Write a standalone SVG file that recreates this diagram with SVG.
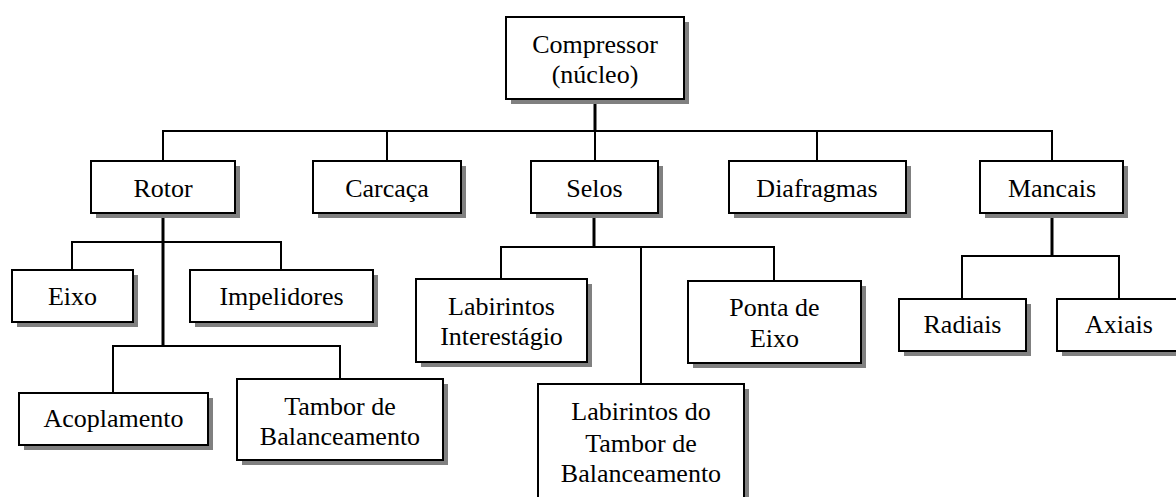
<svg xmlns="http://www.w3.org/2000/svg" width="1176" height="497" viewBox="0 0 1176 497">
<style>
.sh{fill:#808080;stroke:none}
.bx{fill:#fff;stroke:#000;stroke-width:2}
.t{font-family:"Liberation Serif","Times New Roman",serif;font-size:26px;fill:#000;text-anchor:middle}
.ln{stroke:#000;stroke-width:2;fill:none}
.tk{stroke:#000;stroke-width:3;fill:none}
</style>
<rect width="1176" height="497" fill="#fff"/>
<g id="connectors">
<path class="tk" d="M595 99V131"/>
<path class="ln" d="M163 161V131H1052V161M387 131V161M595 131V161M817 131V161"/>
<path class="tk" d="M163 213V346"/>
<path class="ln" d="M72 270V242H281V270"/>
<path class="ln" d="M113 393V346H340V379"/>
<path class="tk" d="M594 213V247"/>
<path class="ln" d="M501 279V247H774V281M641 247V384"/>
<path class="tk" d="M1052 213V256"/>
<path class="ln" d="M962 299V256H1119V299"/>
</g>
<g id="compressor"><rect class="sh" x="511" y="22" width="178" height="82"/><rect class="bx" x="506" y="17" width="178" height="82"/><text class="t" x="595" y="53">Compressor</text><text class="t" x="595" y="83">(núcleo)</text></g>
<g id="rotor"><rect class="sh" x="96" y="166" width="144" height="52"/><rect class="bx" x="91" y="161" width="144" height="52"/><text class="t" x="163" y="197">Rotor</text></g>
<g id="carcaca"><rect class="sh" x="318" y="166" width="148" height="52"/><rect class="bx" x="313" y="161" width="148" height="52"/><text class="t" x="387" y="197">Carcaça</text></g>
<g id="selos"><rect class="sh" x="536" y="166" width="127" height="52"/><rect class="bx" x="531" y="161" width="127" height="52"/><text class="t" x="594.5" y="197">Selos</text></g>
<g id="diafragmas"><rect class="sh" x="734" y="166" width="177" height="52"/><rect class="bx" x="729" y="161" width="177" height="52"/><text class="t" x="817" y="197">Diafragmas</text></g>
<g id="mancais"><rect class="sh" x="985" y="166" width="143" height="52"/><rect class="bx" x="980" y="161" width="143" height="52"/><text class="t" x="1052" y="197">Mancais</text></g>
<g id="eixo"><rect class="sh" x="17" y="275" width="121" height="52"/><rect class="bx" x="12" y="270" width="121" height="52"/><text class="t" x="72.5" y="305">Eixo</text></g>
<g id="impelidores"><rect class="sh" x="195" y="275" width="183" height="52"/><rect class="bx" x="190" y="270" width="183" height="52"/><text class="t" x="281.5" y="305">Impelidores</text></g>
<g id="acoplamento"><rect class="sh" x="24" y="398" width="189" height="52"/><rect class="bx" x="19" y="393" width="189" height="52"/><text class="t" x="113.5" y="427">Acoplamento</text></g>
<g id="tambor"><rect class="sh" x="242" y="384" width="206" height="81"/><rect class="bx" x="237" y="379" width="206" height="81"/><text class="t" x="340" y="415">Tambor de</text><text class="t" x="340" y="445">Balanceamento</text></g>
<g id="lab-inter"><rect class="sh" x="421" y="284" width="171" height="83"/><rect class="bx" x="416" y="279" width="171" height="83"/><text class="t" x="501.5" y="315">Labirintos</text><text class="t" x="501.5" y="345">Interestágio</text></g>
<g id="ponta"><rect class="sh" x="693" y="286" width="173" height="82"/><rect class="bx" x="688" y="281" width="173" height="82"/><text class="t" x="774.5" y="316">Ponta de</text><text class="t" x="774.5" y="347">Eixo</text></g>
<g id="lab-tambor"><rect class="sh" x="543" y="389" width="206" height="130"/><rect class="bx" x="538" y="384" width="206" height="130"/><text class="t" x="641" y="420">Labirintos do</text><text class="t" x="641" y="452">Tambor de</text><text class="t" x="641" y="482">Balanceamento</text></g>
<g id="radiais"><rect class="sh" x="904" y="304" width="127" height="52"/><rect class="bx" x="899" y="299" width="127" height="52"/><text class="t" x="962.5" y="333">Radiais</text></g>
<g id="axiais"><rect class="sh" x="1062" y="304" width="124" height="52"/><rect class="bx" x="1057" y="299" width="124" height="52"/><text class="t" x="1119" y="333">Axiais</text></g>
</svg>
